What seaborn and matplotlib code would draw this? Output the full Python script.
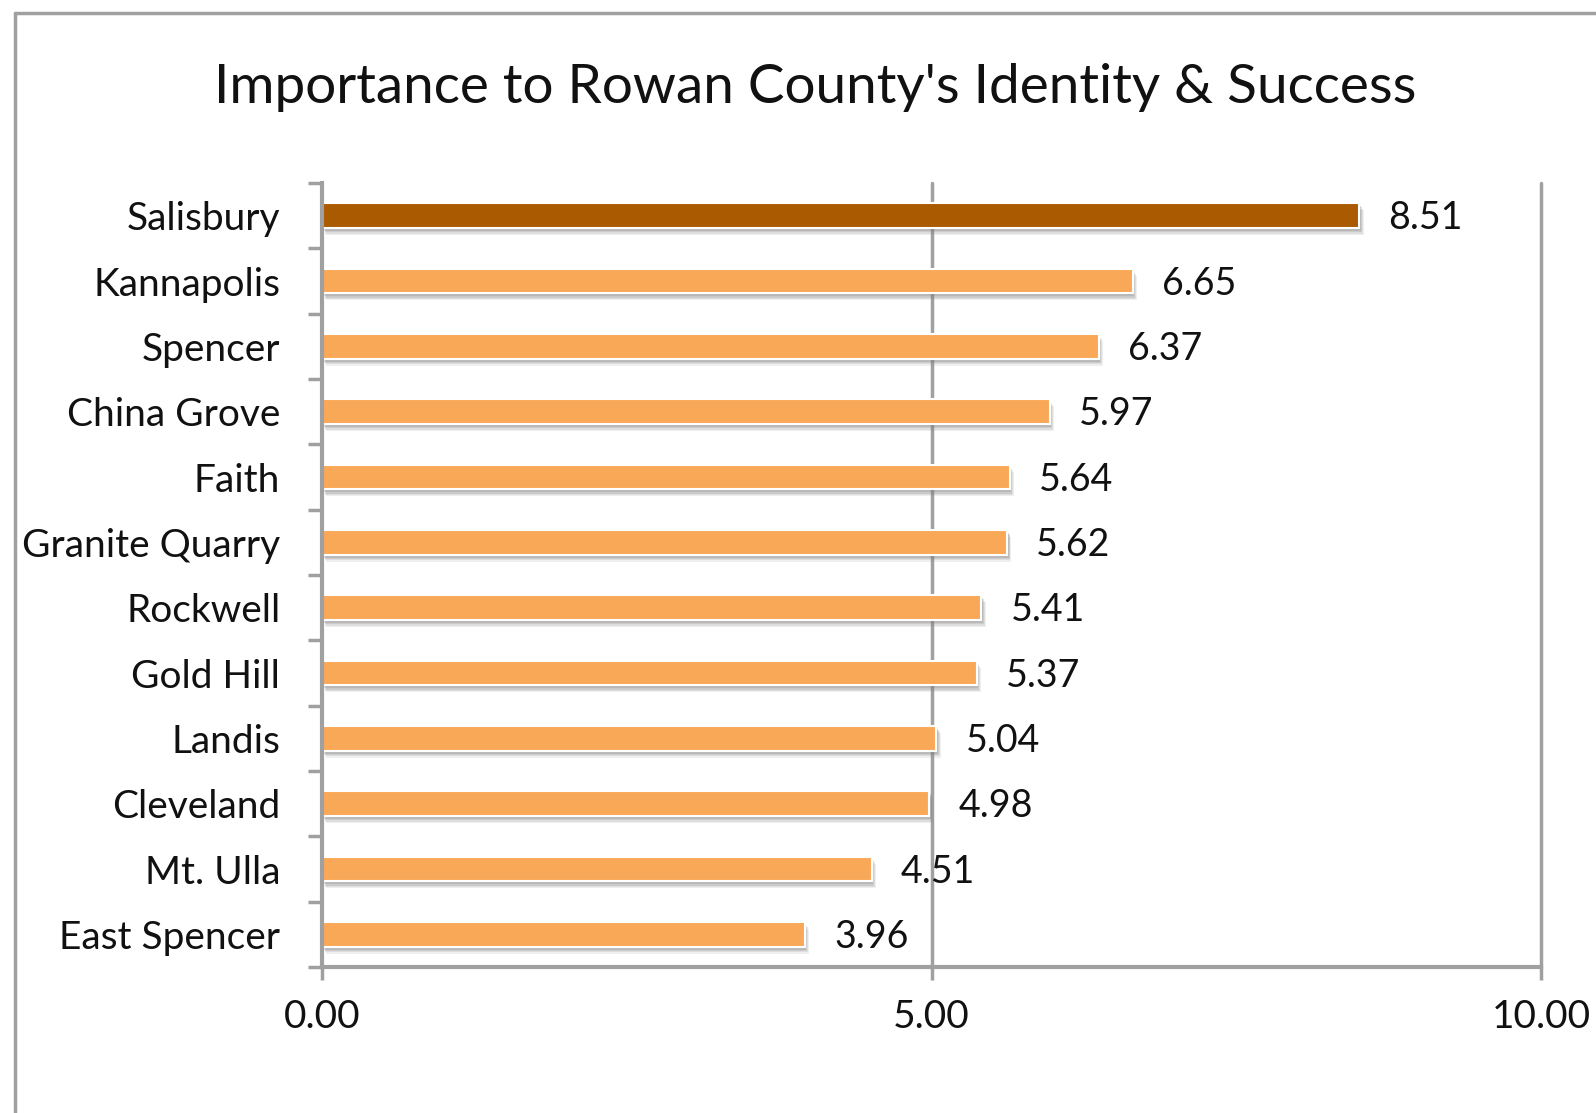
import matplotlib
matplotlib.use("Agg")
import matplotlib.pyplot as plt
import matplotlib.patheffects as pe
from matplotlib.lines import Line2D
from matplotlib.ticker import FixedLocator
import seaborn as sns
import pandas as pd

# ── data ────────────────────────────────────────────────────
towns = ["Salisbury", "Kannapolis", "Spencer", "China Grove", "Faith",
         "Granite Quarry", "Rockwell", "Gold Hill", "Landis", "Cleveland",
         "Mt. Ulla", "East Spencer"]
scores = [8.51, 6.65, 6.37, 5.97, 5.64, 5.62, 5.41, 5.37, 5.04, 4.98, 4.51, 3.96]
x_ticks = [0, 5, 10]

DARK = "#AA5A00"
LIGHT = "#F9A857"
GRAY = "#A0A0A0"
colors = [DARK] + [LIGHT] * (len(towns) - 1)

df = pd.DataFrame({"town": towns, "score": scores})

sns.set_style("white")
plt.rcParams["font.family"] = ["Lato", "DejaVu Sans"]

W, H = 1596, 1113
fig = plt.figure(figsize=(W / 100, H / 100), dpi=100)
ax = fig.add_axes([322 / W, 1 - 967 / H, (1541 - 322) / W, (967 - 183) / H])

sns.barplot(data=df, x="score", y="town", hue="town", palette=colors,
            saturation=1, legend=False, width=0.38, ax=ax,
            edgecolor="white", linewidth=1.5, zorder=3)

# soft drop shadow under each bar
shadow = [pe.SimplePatchShadow(offset=(o * 0.6, -o), shadow_rgbFace="#808080", alpha=a)
          for o, a in [(5, 0.12), (4, 0.15), (3, 0.2), (2, 0.25)]]
for p in ax.patches:
    p.set_path_effects(shadow + [pe.Normal()])

ax.set_xlim(0, 10)
ax.set_ylim(len(towns) - 0.5, -0.5)
ax.set_xticks(x_ticks)
ax.set_xticklabels([f"{t:.2f}" for t in x_ticks], fontsize=28)
ax.set_xlabel("")
ax.set_ylabel("")

# value labels
for i, v in enumerate(scores):
    ax.text(v + 0.24, i + 0.04, f"{v:.2f}", va="center", ha="left", fontsize=27,
            color="#111111")

# y ticks: labels at centers, tick marks between categories
ax.tick_params(axis="y", which="major", length=0, pad=30, labelsize=28, labelcolor="#111111")
ax.yaxis.set_minor_locator(FixedLocator([k - 0.5 for k in range(len(towns) + 1)]))
ax.tick_params(axis="y", which="minor", length=10, width=2.5, color=GRAY, left=True)
ax.tick_params(axis="x", which="major", length=9, width=2.5, color=GRAY, bottom=True,
               pad=14, labelcolor="#111111")

# grid at 5 and 10
for g in x_ticks[1:]:
    ax.axvline(g, color=GRAY, linewidth=2.5, zorder=1, clip_on=False)

for s in ["top", "right"]:
    ax.spines[s].set_visible(False)
for s in ["left", "bottom"]:
    ax.spines[s].set_color(GRAY)
    ax.spines[s].set_linewidth(3)
    ax.spines[s].set_zorder(4)

fig.text(815 / W, 1 - 87 / H, "Importance to Rowan County's Identity & Success",
         ha="center", va="center", fontsize=39.5, color="#111111")

# outer frame (top and left edges visible)
fig.add_artist(Line2D([15 / W, 1], [1 - 13 / H, 1 - 13 / H],
                      transform=fig.transFigure, color=GRAY, linewidth=2.5))
fig.add_artist(Line2D([15 / W, 15 / W], [1 - 13 / H, 0],
                      transform=fig.transFigure, color=GRAY, linewidth=2.5))

fig.savefig("out.png", dpi=100)
